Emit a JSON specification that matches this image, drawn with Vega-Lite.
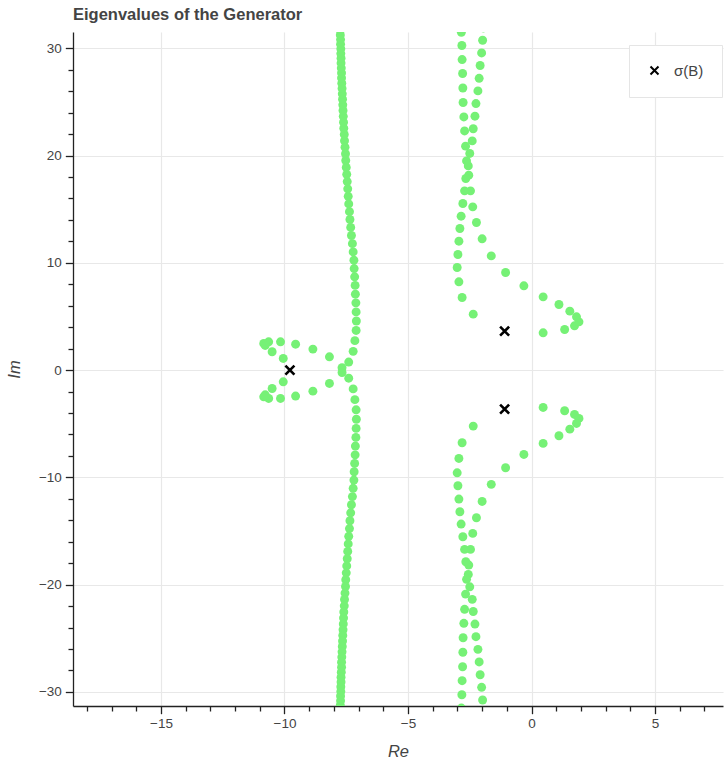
{
  "$schema": "https://vega.github.io/schema/vega-lite/v6.json",
  "width": 650,
  "height": 674,
  "autosize": {"type": "none"},
  "padding": {"left": 73, "top": 32, "right": 1, "bottom": 58},
  "background": "white",
  "title": {"text": "Eigenvalues of the Generator", "anchor": "start", "frame": "group", "font": "Liberation Sans", "fontSize": 16.5, "fontWeight": "bold", "color": "#444444", "offset": 9},
  "config": {
    "view": {"stroke": null},
    "axis": {"labelFont": "Liberation Sans", "labelFontSize": 13.5, "labelColor": "#444444", "titleFont": "Liberation Sans", "titleFontSize": 16.5, "titleFontStyle": "italic", "titleFontWeight": "normal", "titleColor": "#444444", "domainColor": "#222222", "tickColor": "#222222", "domainWidth": 1.3, "tickWidth": 1.3, "gridColor": "#e8e8e8", "gridWidth": 1.2}
  },
  "datasets": {
    "eig": [
      {"re": -10.84, "im": 2.49}, {"re": -10.64, "im": 2.64}, {"re": -10.78, "im": 2.3}, {"re": -10.5, "im": 1.71}, {"re": -10.16, "im": 2.64}, {"re": -10.05, "im": 1.09}, {"re": -9.55, "im": 2.42}, {"re": -8.85, "im": 1.96}, {"re": -8.18, "im": 1.24},
      {"re": -10.84, "im": -2.49}, {"re": -10.64, "im": -2.64}, {"re": -10.78, "im": -2.3}, {"re": -10.5, "im": -1.71}, {"re": -10.16, "im": -2.64}, {"re": -10.05, "im": -1.09}, {"re": -9.55, "im": -2.42}, {"re": -8.85, "im": -1.96}, {"re": -8.18, "im": -1.24},
      {"re": -7.67, "im": 0.22}, {"re": -7.4, "im": 0.75}, {"re": -7.22, "im": 1.75}, {"re": -7.15, "im": 2.75}, {"re": -7.1, "im": 3.7}, {"re": -7.09, "im": 4.58}, {"re": -7.1, "im": 5.43}, {"re": -7.11, "im": 6.27}, {"re": -7.13, "im": 7.08}, {"re": -7.14, "im": 7.9}, {"re": -7.16, "im": 8.7}, {"re": -7.18, "im": 9.47}, {"re": -7.19, "im": 10.25}, {"re": -7.22, "im": 11.02}, {"re": -7.25, "im": 11.79}, {"re": -7.29, "im": 12.55}, {"re": -7.32, "im": 13.3}, {"re": -7.35, "im": 14.04}, {"re": -7.37, "im": 14.77}, {"re": -7.4, "im": 15.49}, {"re": -7.42, "im": 16.2}, {"re": -7.44, "im": 16.9}, {"re": -7.46, "im": 17.58}, {"re": -7.48, "im": 18.25}, {"re": -7.5, "im": 18.9}, {"re": -7.52, "im": 19.54}, {"re": -7.53, "im": 20.17}, {"re": -7.55, "im": 20.78}, {"re": -7.57, "im": 21.38}, {"re": -7.58, "im": 21.97}, {"re": -7.6, "im": 22.55}, {"re": -7.61, "im": 23.11}, {"re": -7.62, "im": 23.66}, {"re": -7.63, "im": 24.2}, {"re": -7.64, "im": 24.73}, {"re": -7.65, "im": 25.25}, {"re": -7.66, "im": 25.76}, {"re": -7.67, "im": 26.26}, {"re": -7.68, "im": 26.75}, {"re": -7.69, "im": 27.23}, {"re": -7.69, "im": 27.7}, {"re": -7.7, "im": 28.16}, {"re": -7.71, "im": 28.62}, {"re": -7.71, "im": 29.07}, {"re": -7.72, "im": 29.51}, {"re": -7.72, "im": 29.95}, {"re": -7.73, "im": 30.38}, {"re": -7.73, "im": 30.81}, {"re": -7.74, "im": 31.24}, {"re": -7.74, "im": 31.67},
      {"re": -7.67, "im": -0.22}, {"re": -7.4, "im": -0.75}, {"re": -7.22, "im": -1.75}, {"re": -7.15, "im": -2.75}, {"re": -7.1, "im": -3.7}, {"re": -7.09, "im": -4.58}, {"re": -7.1, "im": -5.43}, {"re": -7.11, "im": -6.27}, {"re": -7.13, "im": -7.08}, {"re": -7.14, "im": -7.9}, {"re": -7.16, "im": -8.7}, {"re": -7.18, "im": -9.47}, {"re": -7.19, "im": -10.25}, {"re": -7.22, "im": -11.02}, {"re": -7.25, "im": -11.79}, {"re": -7.29, "im": -12.55}, {"re": -7.32, "im": -13.3}, {"re": -7.35, "im": -14.04}, {"re": -7.37, "im": -14.77}, {"re": -7.4, "im": -15.49}, {"re": -7.42, "im": -16.2}, {"re": -7.44, "im": -16.9}, {"re": -7.46, "im": -17.58}, {"re": -7.48, "im": -18.25}, {"re": -7.5, "im": -18.9}, {"re": -7.52, "im": -19.54}, {"re": -7.53, "im": -20.17}, {"re": -7.55, "im": -20.78}, {"re": -7.57, "im": -21.38}, {"re": -7.58, "im": -21.97}, {"re": -7.6, "im": -22.55}, {"re": -7.61, "im": -23.11}, {"re": -7.62, "im": -23.66}, {"re": -7.63, "im": -24.2}, {"re": -7.64, "im": -24.73}, {"re": -7.65, "im": -25.25}, {"re": -7.66, "im": -25.76}, {"re": -7.67, "im": -26.26}, {"re": -7.68, "im": -26.75}, {"re": -7.69, "im": -27.23}, {"re": -7.69, "im": -27.7}, {"re": -7.7, "im": -28.16}, {"re": -7.71, "im": -28.62}, {"re": -7.71, "im": -29.07}, {"re": -7.72, "im": -29.51}, {"re": -7.72, "im": -29.95}, {"re": -7.73, "im": -30.38}, {"re": -7.73, "im": -30.81}, {"re": -7.74, "im": -31.24}, {"re": -7.74, "im": -31.67},
      {"re": 0.47, "im": 3.48}, {"re": 1.34, "im": 3.79}, {"re": 1.74, "im": 4.13}, {"re": 1.92, "im": 4.5}, {"re": 1.82, "im": 4.97}, {"re": 1.55, "im": 5.5}, {"re": 1.11, "im": 6.12}, {"re": 0.47, "im": 6.83}, {"re": -0.31, "im": 7.86}, {"re": -1.05, "im": 9.1}, {"re": -1.63, "im": 10.65}, {"re": -2.0, "im": 12.24}, {"re": -2.23, "im": 13.76}, {"re": -2.38, "im": 15.22}, {"re": -2.47, "im": 16.71}, {"re": -2.54, "im": 18.17}, {"re": -2.56, "im": 19.04}, {"re": -2.5, "im": 20.2}, {"re": -2.4, "im": 21.37}, {"re": -2.36, "im": 22.5}, {"re": -2.29, "im": 23.67}, {"re": -2.25, "im": 24.85}, {"re": -2.17, "im": 26.03}, {"re": -2.12, "im": 27.2}, {"re": -2.08, "im": 28.4}, {"re": -2.02, "im": 29.57}, {"re": -1.98, "im": 30.75}, {"re": -1.95, "im": 31.9},
      {"re": 0.47, "im": -3.48}, {"re": 1.34, "im": -3.79}, {"re": 1.74, "im": -4.13}, {"re": 1.92, "im": -4.5}, {"re": 1.82, "im": -4.97}, {"re": 1.55, "im": -5.5}, {"re": 1.11, "im": -6.12}, {"re": 0.47, "im": -6.83}, {"re": -0.31, "im": -7.86}, {"re": -1.05, "im": -9.1}, {"re": -1.63, "im": -10.65}, {"re": -2.0, "im": -12.24}, {"re": -2.23, "im": -13.76}, {"re": -2.38, "im": -15.22}, {"re": -2.47, "im": -16.71}, {"re": -2.54, "im": -18.17}, {"re": -2.56, "im": -19.04}, {"re": -2.5, "im": -20.2}, {"re": -2.4, "im": -21.37}, {"re": -2.36, "im": -22.5}, {"re": -2.29, "im": -23.67}, {"re": -2.25, "im": -24.85}, {"re": -2.17, "im": -26.03}, {"re": -2.12, "im": -27.2}, {"re": -2.08, "im": -28.4}, {"re": -2.02, "im": -29.57}, {"re": -1.98, "im": -30.75}, {"re": -1.95, "im": -31.9},
      {"re": -2.36, "im": 5.22}, {"re": -2.81, "im": 6.77}, {"re": -2.94, "im": 8.23}, {"re": -3.01, "im": 9.57}, {"re": -2.98, "im": 10.78}, {"re": -2.94, "im": 12.02}, {"re": -2.9, "im": 13.2}, {"re": -2.85, "im": 14.35}, {"re": -2.78, "im": 15.53}, {"re": -2.71, "im": 16.71}, {"re": -2.66, "im": 17.86}, {"re": -2.63, "im": 19.5}, {"re": -2.67, "im": 20.88}, {"re": -2.71, "im": 22.3}, {"re": -2.74, "im": 23.6}, {"re": -2.77, "im": 24.95}, {"re": -2.78, "im": 26.3}, {"re": -2.79, "im": 27.65}, {"re": -2.81, "im": 28.95}, {"re": -2.82, "im": 30.26}, {"re": -2.84, "im": 31.5},
      {"re": -2.36, "im": -5.22}, {"re": -2.81, "im": -6.77}, {"re": -2.94, "im": -8.23}, {"re": -3.01, "im": -9.57}, {"re": -2.98, "im": -10.78}, {"re": -2.94, "im": -12.02}, {"re": -2.9, "im": -13.2}, {"re": -2.85, "im": -14.35}, {"re": -2.78, "im": -15.53}, {"re": -2.71, "im": -16.71}, {"re": -2.66, "im": -17.86}, {"re": -2.63, "im": -19.5}, {"re": -2.67, "im": -20.88}, {"re": -2.71, "im": -22.3}, {"re": -2.74, "im": -23.6}, {"re": -2.77, "im": -24.95}, {"re": -2.78, "im": -26.3}, {"re": -2.79, "im": -27.65}, {"re": -2.81, "im": -28.95}, {"re": -2.82, "im": -30.26}, {"re": -2.84, "im": -31.5}
    ],
    "sigma": [
      {"re": -9.78, "im": 0, "label": "σ(B)"},
      {"re": -1.09, "im": 3.63, "label": "σ(B)"},
      {"re": -1.09, "im": -3.63, "label": "σ(B)"}
    ]
  },
  "resolve": {"scale": {"x": "shared", "y": "shared"}, "axis": {"x": "independent", "y": "independent"}},
  "layer": [
    {
      "data": {"name": "eig"},
      "mark": {"type": "circle", "size": 80, "color": "#76f176", "opacity": 1, "clip": true},
      "encoding": {
        "x": {"field": "re", "type": "quantitative", "scale": {"domain": [-18.56, 7.75], "nice": false, "zero": false},
          "axis": {"orient": "bottom", "title": "Re", "values": [-15, -10, -5, 0, 5], "grid": true, "tickSize": 7.7, "labelPadding": 3, "titlePadding": 13}},
        "y": {"field": "im", "type": "quantitative", "scale": {"domain": [-31.31, 31.52], "nice": false, "zero": false},
          "axis": {"orient": "left", "title": "Im", "values": [-30, -20, -10, 0, 10, 20, 30], "grid": true, "tickSize": 7.7, "labelPadding": 4, "titlePadding": 16}}
      }
    },
    {
      "data": {"name": "sigma"},
      "mark": {"type": "point", "filled": false, "stroke": "black", "opacity": 1, "strokeOpacity": 1, "strokeWidth": 2.6, "size": 81, "clip": true},
      "encoding": {
        "x": {"field": "re", "type": "quantitative", "scale": {"domain": [-18.56, 7.75], "nice": false, "zero": false},
          "axis": {"orient": "bottom", "title": null, "labels": false, "domain": false, "grid": false, "tickSize": 5, "values": [-18, -17, -16, -14, -13, -12, -11, -9, -8, -7, -6, -4, -3, -2, -1, 1, 2, 3, 4, 6, 7]}},
        "y": {"field": "im", "type": "quantitative", "scale": {"domain": [-31.31, 31.52], "nice": false, "zero": false},
          "axis": {"orient": "left", "title": null, "labels": false, "domain": false, "grid": false, "tickSize": 5, "values": [-28, -26, -24, -22, -18, -16, -14, -12, -8, -6, -4, -2, 2, 4, 6, 8, 12, 14, 16, 18, 22, 24, 26, 28]}},
        "shape": {"field": "label", "type": "nominal", "scale": {"range": ["M-1,-1L1,1M1,-1L-1,1"]},
          "legend": {"orient": "none", "legendX": 556, "legendY": 13, "title": null, "padding": 18, "fillColor": "white", "strokeColor": "#e5e5e5", "labelFont": "Liberation Sans", "labelFontSize": 15, "labelColor": "#444444", "labelOffset": 12, "symbolSize": 64, "symbolStrokeWidth": 2, "symbolStrokeColor": "black", "symbolFillColor": "transparent", "symbolOpacity": 1}}
      }
    }
  ]
}
